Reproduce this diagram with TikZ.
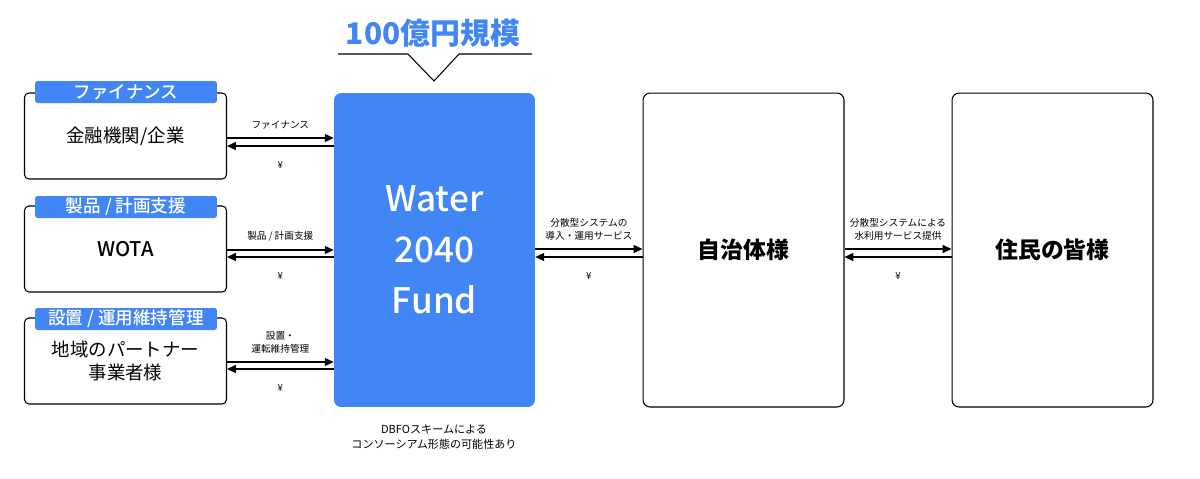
\documentclass[tikz,border=0pt]{standalone}
\usepackage{fontspec}
\setmainfont{Noto Sans CJK JP}
\newfontfamily\medfont{Noto Sans CJK JP Medium}
\usetikzlibrary{arrows.meta,calc}
\definecolor{fundblue}{HTML}{4285F4}
\tikzset{
  partybox/.style={draw=black, line width=0.6pt, rounded corners=2.5pt, minimum width=4.04cm, minimum height=1.72cm, align=center, font=\fontsize{10.5}{13}\selectfont},
  tabbox/.style={fill=fundblue, rounded corners=1.5pt, minimum width=3.64cm, minimum height=0.44cm, inner sep=0pt, text=white, font=\medfont\fontsize{10}{12}\selectfont},
  bigbox/.style={draw=black, line width=0.6pt, rounded corners=4pt, minimum width=4.02cm, minimum height=6.28cm, font=\bfseries\fontsize{13}{15}\selectfont},
  flow/.style={line width=0.7pt, -{Triangle[length=5pt,width=4.5pt]}},
  lbl/.style={font=\fontsize{5.5}{7.5}\selectfont, align=center, inner sep=0pt},
}
\begin{document}
\begin{tikzpicture}[x=0.02cm, y=-0.02cm]
                \useasboundingbox (0,0) rectangle (1200,478);
                
                % Drawing title and bracket
                \node (scale) at (433,33) [text=fundblue, font=\bfseries\fontsize{17}{20}\selectfont] {100億円規模};
                \draw [line width=0.6pt] (338,54) -- (408,54) -- (434,81) -- (459,54) -- (532,54);
                
                % Drawing fund box
                \node (fund) at (434.5,250) [fill=fundblue, rounded corners=4pt, minimum width=4.02cm, minimum height=6.28cm, text=white, align=center, font=\medfont\fontsize{20}{29}\selectfont] {Water\\2040\\Fund};
                \node (note) at (434,437) [align=center, font=\fontsize{6.3}{8.5}\selectfont] {DBFOスキームによる\\コンソーシアム形態の可能性あり};
                
                % Drawing left boxes
                \node (fin) at (125.5,136) [partybox] {金融機関/企業};
                \node (fintab) at (126,92) [tabbox] {ファイナンス};
                \node (wota) at (125.5,249) [partybox, font=\medfont\fontsize{11.5}{13}\selectfont] {WOTA};
                \node (wotatab) at (126,207) [tabbox] {製品 / 計画支援};
                \node (partner) at (125.5,361) [partybox] {地域のパートナー\\事業者様};
                \node (partnertab) at (126,319) [tabbox] {設置 / 運用維持管理};
                
                % Drawing right boxes
                \node (city) at (743.5,250) [bigbox] {自治体様};
                \node (people) at (1052.5,250) [bigbox] {住民の皆様};
                
                % Drawing arrows fin
                \coordinate (fa) at ($(fin.east)+(0,2)$);
                \coordinate (fb) at ($(fin.east)+(0,10)$);
                \draw [flow] (fa) -- node [lbl, above=4.5pt] {ファイナンス} (fa -| fund.west);
                \draw [flow] (fb -| fund.west) -- node [lbl, below=8.5pt] {¥} (fb);
                
                % Drawing arrows wota
                \coordinate (wa) at ($(wota.east)+(0,1)$);
                \coordinate (wb) at ($(wota.east)+(0,8)$);
                \draw [flow] (wa) -- node [lbl, above=4.5pt] {製品 / 計画支援} (wa -| fund.west);
                \draw [flow] (wb -| fund.west) -- node [lbl, below=8.5pt] {¥} (wb);
                
                % Drawing arrows partner
                \coordinate (pa) at ($(partner.east)+(0,1)$);
                \coordinate (pb) at ($(partner.east)+(0,8)$);
                \draw [flow] (pa) -- node [lbl, above=4.5pt] {設置・\\運転維持管理} (pa -| fund.west);
                \draw [flow] (pb -| fund.west) -- node [lbl, below=8.5pt] {¥} (pb);
                
                % Drawing arrows city
                \coordinate (ca) at ($(fund.east)+(0,-1)$);
                \coordinate (cb) at ($(fund.east)+(0,7)$);
                \draw [flow] (ca) -- node [lbl, above=4.5pt] {分散型システムの\\導入・運用サービス} (ca -| city.west);
                \draw [flow] (cb -| city.west) -- node [lbl, below=8.5pt] {¥} (cb);
                
                % Drawing arrows people
                \coordinate (ra) at ($(city.east)+(0,-1)$);
                \coordinate (rb) at ($(city.east)+(0,7)$);
                \draw [flow] (ra) -- node [lbl, above=4.5pt] {分散型システムによる\\水利用サービス提供} (ra -| people.west);
                \draw [flow] (rb -| people.west) -- node [lbl, below=8.5pt] {¥} (rb);
\end{tikzpicture}
\end{document}
